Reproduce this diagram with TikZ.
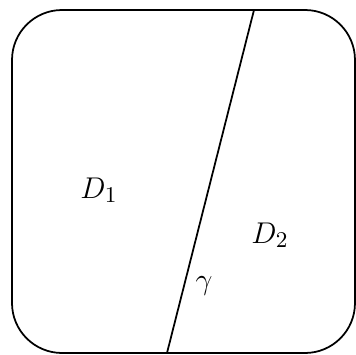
\documentclass[tikz,border=0pt]{standalone}
\usepackage{tikz}
\usetikzlibrary{positioning, calc}

\begin{document}
\begin{tikzpicture}[
    x=0.4pt, y=-0.4pt,
    region/.style={draw, line width=0.7pt, rounded corners=20pt},
    curve/.style={line width=0.7pt},
    lbl/.style={inner sep=0pt, font=\fontsize{12.5}{15}\selectfont}
]
\useasboundingbox (0,0) rectangle (356,355);

% Domain
\draw[region] (12,10) rectangle (355,353);

% Cut
\coordinate (top) at (254,10);
\coordinate (bottom) at (167,353);
\draw[curve] (top) -- (bottom);

% Labels
\node[lbl] (d1) at (99,190) {$D_1$};
\node[lbl] (d2) at (270,235) {$D_2$};
\node[lbl] (gamma) at (204,286) {$\gamma$};

\end{tikzpicture}
\end{document}
